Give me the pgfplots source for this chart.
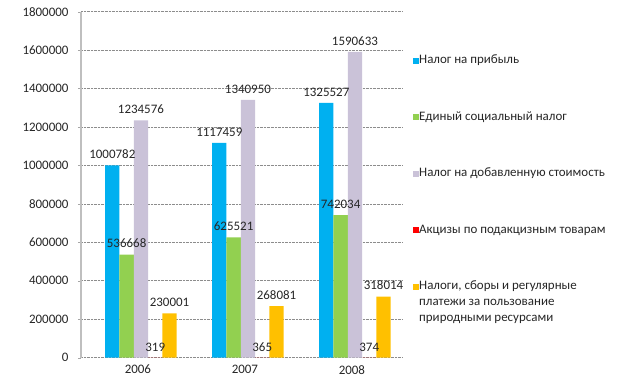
\documentclass[border=0pt]{standalone}
\usepackage{fontspec}
\setmainfont{Carlito}
\usepackage{pgfplots}
\pgfplotsset{compat=1.18}
\usepackage{pgfplotstable}

\definecolor{cblue}{HTML}{00B0F0}
\definecolor{cgreen}{HTML}{92D050}
\definecolor{cgray}{HTML}{CAC2D8}
\definecolor{cred}{HTML}{FF0000}
\definecolor{cyellow}{HTML}{FFC000}

\pgfplotstableread{
x profit esn nds akciz nature
0 1000782 536668 1234576 319 230001
1 1117459 625521 1340950 365 268081
2 1325527 742034 1590633 374 318014
}\taxdata

\begin{document}
\begin{tikzpicture}
\begin{axis}[
  scale only axis, width=321bp, height=346bp,
  xmin=-0.56, xmax=2.44, ymin=0, ymax=1800000,
  ytick={0,200000,400000,600000,800000,1000000,1200000,1400000,1600000,1800000},
  scaled y ticks=false,
  yticklabel style={/pgf/number format/fixed,/pgf/number format/1000 sep={},
    /pgf/number format/assume math mode=true, font=\fontsize{13}{15}\selectfont,
    text=black!85, xshift=-6bp},
  xtick={0,1,2}, xticklabels={2006,2007,2008},
  xticklabel style={font=\fontsize{13}{15}\selectfont, text=black!85, xshift=-3bp, yshift=-1bp},
  axis y line=left, axis x line=bottom,
  axis line style={-},
  x axis line style={draw=none},
  y axis line style={draw=black!25, line width=1.5bp},
  xtick style={draw=none},
  ytick style={draw=black!35},
  tick align=outside, major tick length=3bp,
  ymajorgrids,
  major grid style={densely dotted, draw=black!45, line width=0.7bp},
  ybar=0pt, bar width=0.1336,
  point meta=explicit symbolic,
  nodes near coords,
  nodes near coords style={font=\fontsize{13}{15}\selectfont, text=black!85, yshift=3bp},
  every axis plot post/.append style={
    legend image code/.code={\fill[##1] (0bp,0bp) rectangle (6bp,6bp);}},
  legend style={draw=none, fill=none, at={(rel axis cs:1,1)}, anchor=north west,
    xshift=11bp, yshift=-44bp, inner sep=0pt, row sep=45.5bp,
    font=\fontsize{13}{16}\selectfont, text=black!85,
    cells={anchor=base west},
    nodes={text height=8bp, text depth=3bp, inner sep=0pt},
    /tikz/every even column/.append style={column sep=4bp}},
]
\addplot[fill=cblue, draw=none] table[x=x, y=profit, meta=profit] {\taxdata};
\addlegendentry{Налог на прибыль}
\addplot[fill=cgreen, draw=none] table[x=x, y=esn, meta=esn] {\taxdata};
\addlegendentry{Единый социальный налог}
\addplot[fill=cgray, draw=none] table[x=x, y=nds, meta=nds] {\taxdata};
\addlegendentry{Налог на добавленную стоимость}
\addplot[fill=cred, draw=none] table[x=x, y=akciz, meta=akciz] {\taxdata};
\addlegendentry{Акцизы по подакцизным товарам}
\addplot[fill=cyellow, draw=none] table[x=x, y=nature, meta=nature] {\taxdata};
\addlegendentry{\begin{tabular}[t]{@{}l@{}}Налоги, сборы и регулярные\\платежи за пользование\\природными ресурсами\end{tabular}}
\end{axis}
\path (current axis.south west) ++(-81bp,-20.3bp) rectangle ++(627bp,378bp);
\end{tikzpicture}
\end{document}
